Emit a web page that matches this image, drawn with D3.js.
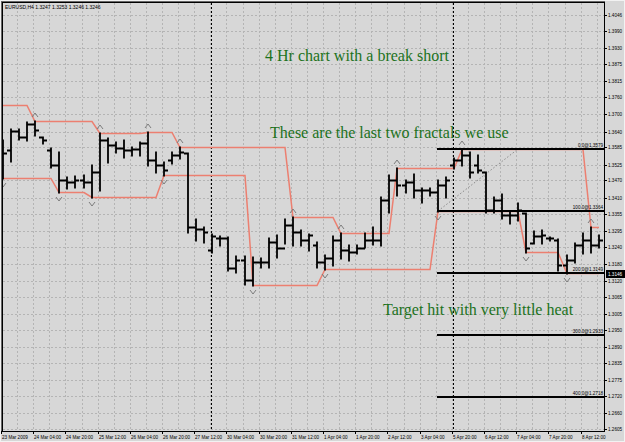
<!DOCTYPE html>
<html>
<head>
<meta charset="utf-8">
<script src="https://cdn.jsdelivr.net/npm/d3@7"></script>
<style>
body { margin: 0; background: #d7d7d7; overflow: hidden; }
svg { display: block; }
</style>
</head>
<body>
<script>
// EURUSD H4 bars, one entry per bar (0 = 23 Mar 12:00)
var opens  = [1.3593,1.3576,1.3642,1.3621,1.3667,1.3621,1.3576,1.3524,1.3472,1.3465,
              1.3472,1.3465,1.3499,1.3611,1.3593,1.3583,1.3576,1.3580,1.3600,1.3541,
              1.3524,1.3541,1.3559,1.3566,1.3308,1.3301,1.3228,1.3270,1.3270,1.3165,
              1.3193,1.3124,1.3186,1.3186,1.3256,1.3235,1.3315,1.3291,1.3263,1.3245,
              1.3186,1.3200,1.3263,1.3228,1.3221,1.3235,1.3263,1.3263,1.3402,1.3472,
              1.3454,1.3465,1.3437,1.3437,1.3430,1.3454,1.3524,1.3541,1.3559,1.3524,
              1.3499,1.3367,1.3402,1.3350,1.3350,1.3357,1.3252,1.3277,1.3270,1.3263,
              1.3176,1.3193,1.3245,1.3263,1.3245];
var highs  = [1.3611,1.3649,1.3649,1.3673,1.3677,1.3621,1.3583,1.3569,1.3482,1.3486,
              1.3489,1.3524,1.3635,1.3618,1.3604,1.3611,1.3586,1.3604,1.3639,1.3569,
              1.3534,1.3569,1.3586,1.3566,1.3336,1.3308,1.3284,1.3277,1.3273,1.3207,
              1.3207,1.3204,1.3200,1.3270,1.3280,1.3336,1.3343,1.3298,1.3284,1.3256,
              1.3211,1.3277,1.3287,1.3245,1.3245,1.3287,1.3308,1.3412,1.3489,1.3513,
              1.3472,1.3492,1.3444,1.3444,1.3472,1.3482,1.3548,1.3579,1.3569,1.3559,
              1.3499,1.3412,1.3423,1.3364,1.3392,1.3357,1.3294,1.3298,1.3273,1.3266,
              1.3211,1.3252,1.3287,1.3308,1.3280];
var lows   = [1.3479,1.3538,1.3614,1.3611,1.3628,1.3600,1.3517,1.3430,1.3444,1.3447,
              1.3447,1.3412,1.3437,1.3534,1.3569,1.3552,1.3559,1.3559,1.3524,1.3499,
              1.3489,1.3531,1.3548,1.3291,1.3263,1.3256,1.3221,1.3245,1.3158,1.3151,
              1.3110,1.3106,1.3169,1.3169,1.3204,1.3252,1.3245,1.3245,1.3228,1.3169,
              1.3162,1.3176,1.3200,1.3193,1.3218,1.3238,1.3249,1.3245,1.3360,1.3419,
              1.3430,1.3412,1.3395,1.3419,1.3364,1.3412,1.3513,1.3524,1.3482,1.3499,
              1.3360,1.3360,1.3339,1.3322,1.3332,1.3221,1.3252,1.3252,1.3263,1.3158,
              1.3148,1.3186,1.3218,1.3221,1.3238];
var closes = [1.3566,1.3642,1.3621,1.3667,1.3646,1.3611,1.3524,1.3472,1.3465,1.3472,
              1.3465,1.3499,1.3611,1.3593,1.3583,1.3576,1.3580,1.3600,1.3541,1.3524,
              1.3506,1.3559,1.3569,1.3308,1.3301,1.3291,1.3277,1.3270,1.3165,1.3193,
              1.3124,1.3186,1.3186,1.3256,1.3235,1.3315,1.3291,1.3263,1.3280,1.3186,
              1.3200,1.3263,1.3228,1.3221,1.3235,1.3263,1.3263,1.3402,1.3472,1.3454,
              1.3465,1.3437,1.3437,1.3430,1.3454,1.3472,1.3541,1.3559,1.3499,1.3506,
              1.3367,1.3402,1.3350,1.3350,1.3367,1.3235,1.3277,1.3280,1.3270,1.3176,
              1.3193,1.3245,1.3263,1.3245,1.3263];

// fractal levels: [bar, price] where the level changes
var upperLevels = [[0,1.3733],[4,1.3677],[12,1.3635],[18,1.3639],[22,1.3586],[36,1.3343],
                   [42,1.3287],[49,1.3513],[57,1.3579],[73,1.3308]];
var lowerLevels = [[0,1.3479],[7,1.3430],[11,1.3412],[20,1.3489],[31,1.3106],[40,1.3162],
                   [54,1.3364],[65,1.3221],[70,1.3148]];
var fractalUp   = [4,12,18,22,36,42,49,57,73];
var fractalDown = [0,7,11,20,31,40,54,65,70];

// fibonacci expansion
var fibNames  = ["0.0","100.0","200.0","300.0","400.0"];
var fibPrices = [1.3579,1.3364,1.3149,1.2933,1.2718];
var fibStart = 54, fibEnd = 64;

var yTicks = [1.4046,1.3990,1.3930,1.3875,1.3815,1.3760,1.3700,1.3640,1.3585,1.3525,
              1.3470,1.3410,1.3355,1.3295,1.3240,1.3180,1.3120,1.3065,1.3005,1.2950,
              1.2890,1.2835,1.2775,1.2720,1.2660,1.2605];
var timeLabels = ["23 Mar 2009","24 Mar 04:00","24 Mar 20:00","25 Mar 12:00","26 Mar 04:00",
                  "26 Mar 20:00","27 Mar 12:00","30 Mar 04:00","30 Mar 20:00","31 Mar 12:00",
                  "1 Apr 04:00","1 Apr 20:00","2 Apr 12:00","3 Apr 04:00","5 Apr 20:00",
                  "6 Apr 12:00","7 Apr 04:00","7 Apr 20:00","8 Apr 12:00"];
var timeLabelBars = [0,4,8,12,16,20,24,28,32,36,40,44,48,52,56,60,64,68,72];
var separatorBars = [26,56];

var title = "EURUSD,H4  1.3247 1.3253 1.3246 1.3246";
var notes = ["4 Hr chart with a break short","These are the last two fractals we use","Target hit with very little heat"];
var bidLabel = "1.3146";

var width = 625, height = 442;
var plotLeft = 3, plotRight = 604, plotTop = 3, plotBottom = 431;

var x = d3.scaleLinear().domain([0, 74]).range([3, 3 + 74 * 8.05]);
var y = d3.scaleLinear().domain([1.2605, 1.4046]).range([429, 15]);

function px(i) { return Math.round(x(i)); }
function py(p) { return Math.round(y(p)); }

var svg = d3.select("body")
    .append("svg")
    .attr("width", width)
    .attr("height", height)
    .style("font-family", "'Liberation Sans', Arial, sans-serif");

svg.append("rect").attr("width", width).attr("height", height).attr("fill", "#d7d7d7");

svg.append("clipPath").attr("id", "plot")
  .append("rect").attr("x", plotLeft).attr("y", plotTop)
  .attr("width", plotRight - plotLeft).attr("height", plotBottom - plotTop);

// grid
var grid = svg.append("g").attr("clip-path", "url(#plot)");
grid.selectAll("line.h")
    .data(yTicks)
    .enter().append("line")
    .attr("x1", plotLeft).attr("x2", plotRight)
    .attr("y1", function(d){ return py(d) + 0.5; })
    .attr("y2", function(d){ return py(d) + 0.5; })
    .attr("stroke", "#b4b4b4").attr("stroke-dasharray", "2,2");
grid.selectAll("line.v")
    .data(d3.range(0, 75, 2))
    .enter().append("line")
    .attr("x1", function(d){ return px(d) - 1.5; })
    .attr("x2", function(d){ return px(d) - 1.5; })
    .attr("y1", plotTop).attr("y2", plotBottom)
    .attr("stroke", "#b4b4b4").attr("stroke-dasharray", "2,2");

// period separators
grid.selectAll("line.sep")
    .data(separatorBars)
    .enter().append("line")
    .attr("x1", function(d){ return px(d) - 0.5; })
    .attr("x2", function(d){ return px(d) - 0.5; })
    .attr("y1", plotTop).attr("y2", plotBottom)
    .attr("stroke", "#000").attr("stroke-dasharray", "2,2");

var plot = svg.append("g").attr("clip-path", "url(#plot)");

// fractal level lines
function levelPoints(levels) {
  var pts = [[levels[0][0], levels[0][1]]];
  for (var j = 1; j < levels.length; j++) {
    pts.push([levels[j][0] - 1, levels[j-1][1]]);
    pts.push([levels[j][0], levels[j][1]]);
  }
  pts.push([74, levels[levels.length - 1][1]]);
  return pts;
}
var line = d3.line()
    .x(function(d){ return px(d[0]); })
    .y(function(d){ return py(d[1]) + 0.5; });

[upperLevels, lowerLevels].forEach(function(lv) {
  plot.append("path")
      .attr("d", line(levelPoints(lv)))
      .attr("fill", "none")
      .attr("stroke", "#ec7f70")
      .attr("stroke-width", 1.5);
});

// fib trend line (dotted)
plot.append("line")
    .attr("x1", px(fibStart)).attr("y1", py(fibPrices[1]))
    .attr("x2", px(fibEnd)).attr("y2", py(fibPrices[0]))
    .attr("stroke", "#8a8a8a").attr("stroke-dasharray", "1.5,2");

// fib levels
var fib = plot.selectAll("g.fib")
    .data(fibPrices)
    .enter().append("g");
fib.append("line")
    .attr("x1", px(fibStart) - 1).attr("x2", plotRight)
    .attr("y1", function(d){ return py(d); })
    .attr("y2", function(d){ return py(d); })
    .attr("stroke", "#000").attr("stroke-width", 2);
fib.append("text")
    .attr("x", plotRight - 1)
    .attr("y", function(d){ return py(d) - 2; })
    .attr("text-anchor", "end")
    .attr("font-size", "4.6px")
    .text(function(d, i){ return fibNames[i] + "@" + d.toFixed(4); });

// bars
plot.selectAll("path.bar")
    .data(d3.range(opens.length))
    .enter().append("path")
    .attr("d", function(i) {
      var cx = px(i);
      return "M" + cx + "," + (py(highs[i]) - 0.5) + "V" + (py(lows[i]) + 1.5) +
             "M" + (cx - 4) + "," + (py(opens[i]) + 0.5) + "H" + cx +
             "M" + cx + "," + (py(closes[i]) + 0.5) + "H" + (cx + 4);
    })
    .attr("fill", "none")
    .attr("stroke", "#000")
    .attr("stroke-width", 1.8);

// fractal arrows
plot.selectAll("path.fup")
    .data(fractalUp)
    .enter().append("path")
    .attr("transform", function(i){ return "translate(" + px(i) + "," + (py(highs[i]) - 6) + ")"; })
    .attr("d", "M-3,2L0,-2L3,2")
    .attr("fill", "none").attr("stroke", "#7c7c7c").attr("stroke-width", 1);
plot.selectAll("path.fdn")
    .data(fractalDown)
    .enter().append("path")
    .attr("transform", function(i){ return "translate(" + px(i) + "," + (py(lows[i]) + 7) + ")"; })
    .attr("d", "M-3,-2L0,2L3,-2")
    .attr("fill", "none").attr("stroke", "#7c7c7c").attr("stroke-width", 1);

// notes
var notePos = [[265, 61], [270, 138], [383, 315]];
svg.selectAll("text.note")
    .data(notes)
    .enter().append("text")
    .attr("x", function(d, i){ return notePos[i][0]; })
    .attr("y", function(d, i){ return notePos[i][1]; })
    .attr("font-family", "'Liberation Serif', 'Times New Roman', serif")
    .attr("font-size", "16px")
    .attr("fill", "#1c721c")
    .text(function(d){ return d; });

// title
svg.append("text")
    .attr("x", 5).attr("y", 9)
    .attr("font-size", "5px")
    .text(title);

// frame
svg.append("rect")
    .attr("x", 0.5).attr("y", 0.5).attr("width", width - 1).attr("height", height - 1)
    .attr("fill", "none").attr("stroke", "#f2f2f2");
svg.append("rect")
    .attr("x", plotLeft - 1.5).attr("y", plotTop - 1.5)
    .attr("width", plotRight - plotLeft + 2).attr("height", plotBottom - plotTop + 2)
    .attr("fill", "none").attr("stroke", "#666");
svg.append("rect")
    .attr("x", plotLeft - 0.5).attr("y", plotTop - 0.5)
    .attr("width", plotRight - plotLeft + 1).attr("height", plotBottom - plotTop + 1)
    .attr("fill", "none").attr("stroke", "#000");

// price axis
var yAxis = svg.append("g");
yAxis.selectAll("line")
    .data(yTicks)
    .enter().append("line")
    .attr("x1", plotRight).attr("x2", plotRight + 3)
    .attr("y1", function(d){ return py(d) + 0.5; })
    .attr("y2", function(d){ return py(d) + 0.5; })
    .attr("stroke", "#000");
yAxis.selectAll("text")
    .data(yTicks)
    .enter().append("text")
    .attr("x", plotRight + 4)
    .attr("y", function(d){ return py(d) + 2; })
    .attr("font-size", "4.6px")
    .text(function(d){ return d.toFixed(4); });

// bid label box
var bidY = py(+bidLabel);
svg.append("rect")
    .attr("x", plotRight + 2).attr("y", bidY - 4).attr("width", 19).attr("height", 8)
    .attr("fill", "#000");
svg.append("text")
    .attr("x", plotRight + 4).attr("y", bidY + 2)
    .attr("font-size", "4.6px").attr("fill", "#fff")
    .text(bidLabel);

// time axis
var xAxis = svg.append("g");
xAxis.selectAll("line")
    .data(timeLabelBars)
    .enter().append("line")
    .attr("x1", function(d){ return px(d) - 1.5; })
    .attr("x2", function(d){ return px(d) - 1.5; })
    .attr("y1", plotBottom).attr("y2", plotBottom + 3)
    .attr("stroke", "#000");
xAxis.selectAll("text")
    .data(timeLabels)
    .enter().append("text")
    .attr("x", function(d, i){ return px(timeLabelBars[i]) - 1; })
    .attr("y", 439)
    .attr("font-size", "4.6px")
    .text(function(d){ return d; });
</script>
</body>
</html>
